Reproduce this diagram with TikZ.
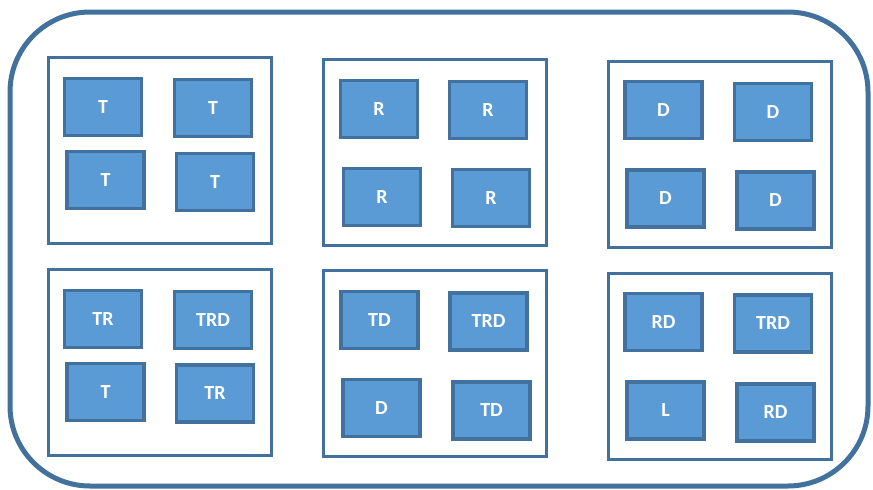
\documentclass[tikz,border=0pt]{standalone}
\usepackage{fontspec}
\setmainfont{Carlito}
\definecolor{cellfill}{HTML}{5B9BD5}
\definecolor{celledge}{HTML}{41719C}

\begin{document}
\begin{tikzpicture}[x=1pt,y=-1pt,
  cell/.style={draw=celledge,fill=cellfill,line width=3.5pt,
    minimum width=77pt,minimum height=57pt,inner sep=0pt,
    text=white,font=\bfseries\fontsize{20}{20}\selectfont},
  panel/.style={draw=celledge,line width=3pt,inner sep=0pt,
    minimum width=223pt,minimum height=186pt}]
  \useasboundingbox (0,0) rectangle (873,490);
  \draw[celledge,line width=5pt,rounded corners=80pt] (10,12) rectangle (868,486);
  % the six groups
  \foreach \n/\x/\y in {1/160/150.5, 2/435/152, 3/719.5/154,
                        4/160/362.5, 5/435/363.5, 6/719.5/366}
    \node[panel] (p\n) at (\x,\y) {};
  % the cells inside them
  \foreach \n/\x/\y/\t in {
      11/103/107/T,    12/213/108/T,    13/105.5/180/T,   14/215/182/T,
      21/379/109/R,    22/488/110/R,    23/382/197/R,     24/491/198/R,
      31/663.5/110/D,  32/773/112/D,    33/665.5/198.5/D, 34/775.5/200.5/D,
      41/103/319/TR,   42/213/320/TRD,  43/105.5/392/T,   44/215/393.5/TR,
      51/379.5/320/TD, 52/488.5/321.5/TRD, 53/381.5/408/D, 54/491.5/410.5/TD,
      61/663.5/322/RD, 62/773/323.5/TRD, 63/665.5/410.5/L, 64/775.5/412.5/RD}
    \node[cell] (c\n) at (\x,\y) {\t};
\end{tikzpicture}
\end{document}
